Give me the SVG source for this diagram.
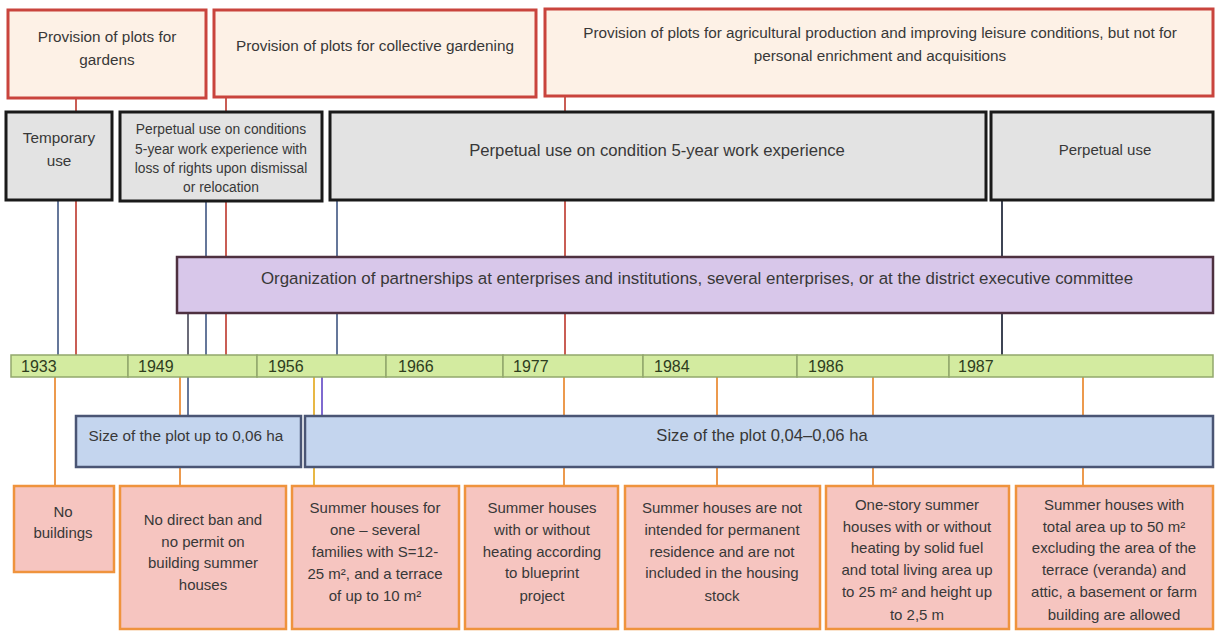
<svg xmlns="http://www.w3.org/2000/svg" width="1215" height="631" viewBox="0 0 1215 631">
<style>
text{font-family:"Liberation Sans",Arial,sans-serif;fill:#383838;text-anchor:middle}
.red{fill:#fdf1e6;stroke:#c9443d;stroke-width:3}
.grey{fill:#e3e3e3;stroke:#1a1a1a;stroke-width:3}
.purple{fill:#d8c7ea;stroke:#4e3040;stroke-width:2.5}
.blue{fill:#c4d5ee;stroke:#4a5574;stroke-width:2.5}
.pink{fill:#f6c5c0;stroke:#ef933d;stroke-width:2.5}
.seg{fill:#d3eba0;stroke:#92a86c;stroke-width:1.5}
.yr{font-size:16px;fill:#2e3d1e;text-anchor:start}
.t13{font-size:15.3px}
.p{font-size:15px}
#connectors line{stroke-width:2}
.lb{stroke:#65779a}
.lr{stroke:#c95e55}
.lg{stroke:#6b6b78}
.lo{stroke:#ec9a4e}
.ly{stroke:#e8b845}
.lv{stroke:#7f6ad0}
.lk{stroke:#3e4454}
</style>
<g id="connectors">
<line class="lb" x1="58" y1="200" x2="58" y2="355"/>
<line class="lr" x1="76" y1="98" x2="76" y2="355"/>
<line class="lg" x1="188" y1="313" x2="188" y2="355"/>
<line class="lb" x1="206" y1="201" x2="206" y2="355"/>
<line class="lr" x1="226" y1="97" x2="226" y2="355"/>
<line class="lb" x1="337" y1="200" x2="337" y2="355"/>
<line class="lr" x1="565" y1="96" x2="565" y2="355"/>
<line class="lk" x1="1002" y1="200" x2="1002" y2="355"/>
<line class="lo" x1="55" y1="377" x2="55" y2="486"/>
<line class="lo" x1="180" y1="377" x2="180" y2="486"/>
<line class="lb" x1="188" y1="377" x2="188" y2="416"/>
<line class="ly" x1="314" y1="377" x2="314" y2="486"/>
<line class="lv" x1="322" y1="377" x2="322" y2="416"/>
<line class="lo" x1="564" y1="377" x2="564" y2="486"/>
<line class="lo" x1="717" y1="377" x2="717" y2="486"/>
<line class="lo" x1="873" y1="377" x2="873" y2="486"/>
<line class="lo" x1="1083" y1="377" x2="1083" y2="486"/>
</g>
<g id="aim-gardens">
<rect class="red" x="8" y="10" width="198" height="88"/>
<text class="t13" x="107" y="42">Provision of plots for</text>
<text class="t13" x="107" y="65">gardens</text>
</g>
<g id="aim-collective">
<rect class="red" x="214" y="10" width="322" height="87"/>
<text class="t13" x="375" y="51">Provision of plots for collective gardening</text>
</g>
<g id="aim-agri">
<rect class="red" x="545" y="9" width="668" height="87"/>
<text class="t13" x="880" y="38">Provision of plots for agricultural production and improving leisure conditions, but not for</text>
<text class="t13" x="880" y="61">personal enrichment and acquisitions</text>
</g>
<g id="use-temporary">
<rect class="grey" x="6" y="112" width="106" height="88"/>
<text x="59" y="143" font-size="15.3">Temporary</text>
<text x="59" y="166" font-size="15.3">use</text>
</g>
<g id="use-perpetual-loss">
<rect class="grey" x="120" y="112" width="202" height="89"/>
<text x="221" y="134" font-size="13.8">Perpetual use on conditions</text>
<text x="221" y="154" font-size="13.8">5-year work experience with</text>
<text x="221" y="173" font-size="13.8">loss of rights upon dismissal</text>
<text x="221" y="192" font-size="13.8">or relocation</text>
</g>
<g id="use-perpetual-5y">
<rect class="grey" x="330" y="112" width="656" height="88"/>
<text x="657" y="156" font-size="16.7">Perpetual use on condition 5-year work experience</text>
</g>
<g id="use-perpetual">
<rect class="grey" x="991" y="112" width="222" height="88"/>
<text x="1105" y="155" font-size="15">Perpetual use</text>
</g>
<g id="organization">
<rect class="purple" x="177" y="257" width="1036" height="56"/>
<text x="697" y="284" font-size="16.9">Organization of partnerships at enterprises and institutions, several enterprises, or at the district executive committee</text>
</g>
<g id="timeline">
<rect class="seg" x="11" y="355" width="117" height="22"/>
<rect class="seg" x="128" y="355" width="129" height="22"/>
<rect class="seg" x="257" y="355" width="129" height="22"/>
<rect class="seg" x="386" y="355" width="117" height="22"/>
<rect class="seg" x="503" y="355" width="140" height="22"/>
<rect class="seg" x="643" y="355" width="154" height="22"/>
<rect class="seg" x="797" y="355" width="152" height="22"/>
<rect class="seg" x="949" y="355" width="264" height="22"/>
<text class="yr" x="21" y="372">1933</text>
<text class="yr" x="138" y="372">1949</text>
<text class="yr" x="268" y="372">1956</text>
<text class="yr" x="398" y="372">1966</text>
<text class="yr" x="513" y="372">1977</text>
<text class="yr" x="654" y="372">1984</text>
<text class="yr" x="808" y="372">1986</text>
<text class="yr" x="958" y="372">1987</text>
</g>
<g id="size-006">
<rect class="blue" x="76" y="416" width="225" height="51"/>
<text x="186" y="441" font-size="15.3">Size of the plot up to 0,06 ha</text>
</g>
<g id="size-004-006">
<rect class="blue" x="305" y="416" width="908" height="51"/>
<text x="762" y="441" font-size="16.6">Size of the plot 0,04–0,06 ha</text>
</g>
<g id="b-1933">
<rect class="pink" x="14" y="486" width="100" height="86"/>
<text class="p" x="63" y="517">No</text>
<text class="p" x="63" y="538">buildings</text>
</g>
<g id="b-1949">
<rect class="pink" x="120" y="486" width="166" height="143"/>
<text class="p" x="203" y="525">No direct ban and</text>
<text class="p" x="203" y="547">no permit on</text>
<text class="p" x="203" y="568">building summer</text>
<text class="p" x="203" y="590">houses</text>
</g>
<g id="b-1956">
<rect class="pink" x="292" y="486" width="167" height="143"/>
<text class="p" x="375" y="513">Summer houses for</text>
<text class="p" x="375" y="535">one – several</text>
<text class="p" x="375" y="557">families with S=12-</text>
<text class="p" x="375" y="579">25 m², and a terrace</text>
<text class="p" x="375" y="601">of up to 10 m²</text>
</g>
<g id="b-1977">
<rect class="pink" x="465" y="486" width="153" height="143"/>
<text class="p" x="542" y="513">Summer houses</text>
<text class="p" x="542" y="535">with or without</text>
<text class="p" x="542" y="557">heating according</text>
<text class="p" x="542" y="578">to blueprint</text>
<text class="p" x="542" y="601">project</text>
</g>
<g id="b-1984">
<rect class="pink" x="625" y="486" width="195" height="143"/>
<text class="p" x="722" y="513">Summer houses are not</text>
<text class="p" x="722" y="535">intended for permanent</text>
<text class="p" x="722" y="557">residence and are not</text>
<text class="p" x="722" y="578">included in the housing</text>
<text class="p" x="722" y="601">stock</text>
</g>
<g id="b-1986">
<rect class="pink" x="826" y="486" width="183" height="143"/>
<text class="p" x="917" y="510">One-story summer</text>
<text class="p" x="917" y="532">houses with or without</text>
<text class="p" x="917" y="553">heating by solid fuel</text>
<text class="p" x="917" y="575">and total living area up</text>
<text class="p" x="917" y="597">to 25 m² and height up</text>
<text class="p" x="917" y="620">to 2,5 m</text>
</g>
<g id="b-1987">
<rect class="pink" x="1016" y="486" width="197" height="143"/>
<text class="p" x="1114" y="510">Summer houses with</text>
<text class="p" x="1114" y="532">total area up to 50 m²</text>
<text class="p" x="1114" y="553">excluding the area of the</text>
<text class="p" x="1114" y="575">terrace (veranda) and</text>
<text class="p" x="1114" y="597">attic, a basement or farm</text>
<text class="p" x="1114" y="620">building are allowed</text>
</g>
</svg>
